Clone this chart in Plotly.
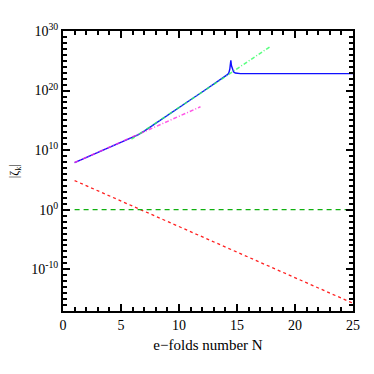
import plotly.graph_objects as go

# blue solid curve |zeta_k|
blue_N = [1, 2, 3, 4, 5, 6, 6.5, 7, 7.5, 8, 9, 10, 11, 12, 13, 13.5, 14, 14.2, 14.3,
          14.38, 14.44, 14.47, 14.52, 14.6, 14.7, 14.85, 15.0, 15.3, 16, 20, 25]
blue_y = [8.3e7, 6.0e8, 4.3e9, 3.0e10, 2.1e11, 1.4e12, 4.0e12, 1.6e13, 7.6e13, 3.5e14,
          7.2e15, 1.4e17, 2.9e18, 5.8e19, 1.1e21, 5.2e21, 2.5e22, 5.2e22, 1.0e23,
          4.0e23, 4.0e24, 1.2e25, 1.6e24, 3.2e23, 1.4e23, 8.9e22, 7.6e22, 7.1e22,
          7.1e22, 7.1e22, 7.1e22]

# magenta dash-dot asymptote
mag_N = [1, 11.85]
mag_y = [8.3e7, 1.9e17]

# green dash-dot asymptote
gdd_N = [5.9, 17.9]
gdd_y = [6.8e11, 2.7e27]

# green dashed constant
gd_N = [1, 25]
gd_y = [1, 1]

# red dotted decaying
red_N = [1, 25]
red_y = [7.9e4, 2.0e-16]

ytick_vals = [1e-10, 1, 1e10, 1e20, 1e30]
ytick_text = ["10<sup>-10</sup>", "10<sup>0</sup>", "10<sup>10</sup>",
              "10<sup>20</sup>", "10<sup>30</sup>"]
xtick_vals = [0, 5, 10, 15, 20, 25]

fig = go.Figure()
fig.add_trace(go.Scatter(x=blue_N, y=blue_y, mode="lines",
                         line=dict(color="#1010ff", width=1.4)))
fig.add_trace(go.Scatter(x=red_N, y=red_y, mode="lines",
                         line=dict(color="#ff2020", width=1.3, dash="dot")))
fig.add_trace(go.Scatter(x=gd_N, y=gd_y, mode="lines",
                         line=dict(color="#10b010", width=1.3, dash="5px,4px")))
fig.add_trace(go.Scatter(x=mag_N, y=mag_y, mode="lines", opacity=0.8,
                         line=dict(color="#ff30e0", width=1.5, dash="4px,2px,1px,2px")))
fig.add_trace(go.Scatter(x=gdd_N, y=gdd_y, mode="lines", opacity=0.8,
                         line=dict(color="#30ff60", width=1.5, dash="4px,2px,1px,2px")))

axcol = "#000000"
fig.update_layout(
    width=366, height=366,
    margin=dict(l=55, r=21, t=23, b=63),
    paper_bgcolor="white", plot_bgcolor="white",
    showlegend=False,
    font=dict(family="Liberation Serif", size=14, color="black"),
    xaxis=dict(range=[0, 25], tickvals=xtick_vals,
               ticks="inside", ticklen=7, tickwidth=2, tickcolor=axcol,
               showgrid=False, zeroline=False,
               showline=True, linecolor=axcol, linewidth=2, mirror="allticks",
               tickfont=dict(size=14),
               minor=dict(dtick=1, ticks="inside", ticklen=4, tickwidth=1.8,
                          tickcolor=axcol, showgrid=False),
               title=dict(text="e\u2212folds number N", standoff=8,
                          font=dict(family="Liberation Serif", size=15))),
    yaxis=dict(type="log", range=[-17, 30],
               tickvals=ytick_vals, ticktext=ytick_text,
               ticks="inside", ticklen=7, tickwidth=2, tickcolor=axcol,
               showgrid=False, zeroline=False, showline=True, linecolor=axcol,
               linewidth=2, mirror="allticks",
               tickfont=dict(size=14),
               minor=dict(dtick=1, ticks="inside", ticklen=4, tickwidth=1.8,
                          tickcolor=axcol, showgrid=False)),
    annotations=[dict(text="|\u03b6<sub>k</sub>|", xref="paper", yref="paper",
                      x=-0.165, y=0.5, xanchor="center", yanchor="middle",
                      showarrow=False, textangle=-90,
                      font=dict(family="Liberation Serif", size=12))],
)

fig.write_html("out.html")
